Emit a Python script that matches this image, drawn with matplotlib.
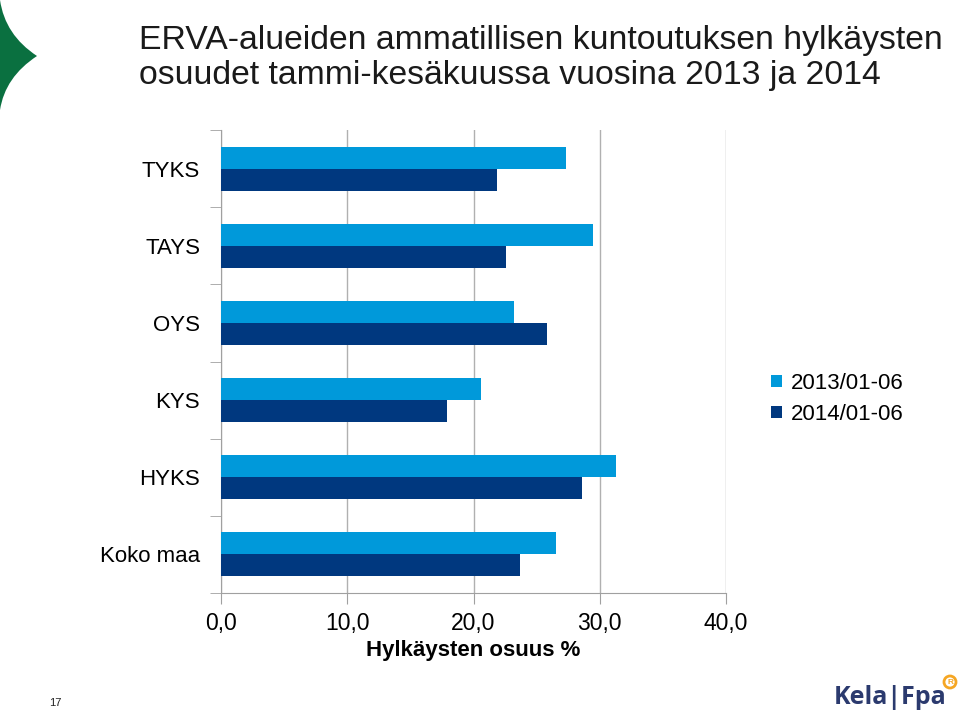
import matplotlib
matplotlib.use("Agg")
import matplotlib.pyplot as plt
import numpy as np
from matplotlib.path import Path
from matplotlib.patches import PathPatch, Circle

categories = ["TYKS", "TAYS", "OYS", "KYS", "HYKS", "Koko maa"]
series_names = ["2013/01-06", "2014/01-06"]
values_2013 = [27.3, 29.5, 23.2, 20.6, 31.3, 26.5]
values_2014 = [21.9, 22.6, 25.8, 17.9, 28.6, 23.7]
xticks = [0, 10, 20, 30, 40]
xtick_labels = ["0,0", "10,0", "20,0", "30,0", "40,0"]

light = "#0099DA"
dark = "#00387F"

plt.rcParams['font.family'] = ['Liberation Sans', 'DejaVu Sans']

fig = plt.figure(figsize=(9.6, 7.18), dpi=100)
W, H = 960, 718
ax = fig.add_axes([221/W, 1-593/H, 505/W, 463/H])

n = len(categories)
y = np.arange(n)
bh = 0.286
ax.barh(y - bh/2, values_2013, height=bh, color=light, label=series_names[0], zorder=3)
ax.barh(y + bh/2, values_2014, height=bh, color=dark, label=series_names[1], zorder=3)
ax.set_ylim(n - 0.5, -0.5)
ax.set_xlim(0, 40)
ax.set_xticks(xticks)
ax.set_xticklabels(xtick_labels, fontsize=16.5)
ax.set_yticks(y)
ax.set_yticklabels(categories, fontsize=16)
ax.tick_params(axis='y', length=0, pad=21/1.389)
ax.set_yticks(np.arange(-0.5, n + 0.5, 1), minor=True)
ax.tick_params(axis='y', which='minor', length=8, color='#A0A0A0')
ax.tick_params(axis='x', length=8, color='#A0A0A0', pad=6)
ax.grid(axis='x', color='#B0B0B0', linewidth=1, zorder=0)
for s in ['top', 'right']:
    ax.spines[s].set_visible(False)
for s in ['left', 'bottom']:
    ax.spines[s].set_color('#A0A0A0')
ax.set_xlabel("Hylkäysten osuus %", fontsize=16, fontweight='bold', labelpad=3)

leg = fig.legend(loc='upper left', bbox_to_anchor=(762/W, 1-364/H), frameon=False,
                 fontsize=16, handlelength=0.5, handleheight=0.5, handletextpad=0.4,
                 labelspacing=0.45, borderaxespad=0)

fig.text(139/W, 1-58/H, "ERVA-alueiden ammatillisen kuntoutuksen hylkäysten\nosuudet tammi-kesäkuussa vuosina 2013 ja 2014",
         fontsize=24.3, color='#1a1a1a', va='center', ha='left', linespacing=1.15)

# green decoration
dax = fig.add_axes([0, 0, 1, 1], zorder=-1)
dax.set_xlim(0, W)
dax.set_ylim(H, 0)
dax.axis('off')
verts = [(0, 0), (5, 35), (37, 56), (5, 77), (0, 110), (0, 0)]
codes = [Path.MOVETO, Path.CURVE3, Path.CURVE3, Path.CURVE3, Path.CURVE3, Path.CLOSEPOLY]
dax.add_patch(PathPatch(Path(verts, codes), facecolor='#0A7040', edgecolor='none'))

fig.text(55/W, 1-703/H, "17", fontsize=8, ha='center', va='center', color='#222222')
fig.text(834/W, 1-697/H, "Kela|Fpa", fontsize=18, fontweight='bold', color='#2B3A6E',
         ha='left', va='center', family=['Open Sans', 'DejaVu Sans'])
dax.add_patch(Circle((950, 682), 6, facecolor='none', edgecolor='#F5A623', linewidth=2))
dax.text(950, 682.5, "R", fontsize=6, color='#F5A623', ha='center', va='center', fontweight='bold')

fig.savefig("out.png", dpi=100)
